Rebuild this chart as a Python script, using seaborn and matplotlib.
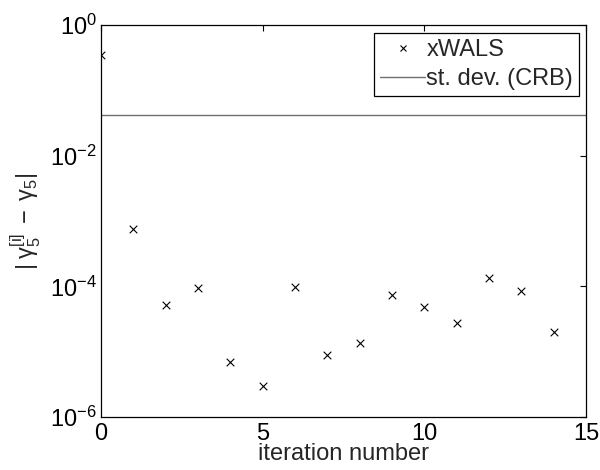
import matplotlib
matplotlib.use("Agg")
import matplotlib.pyplot as plt
import seaborn as sns
import numpy as np
import pandas as pd
from matplotlib.lines import Line2D

iterations = list(range(15))
errors = [0.347, 7.45e-4, 5.2e-5, 9.4e-5, 7.05e-6, 2.95e-6, 9.85e-5, 8.9e-6,
          1.36e-5, 7.25e-5, 4.8e-5, 2.76e-5, 1.32e-4, 8.45e-5, 2.01e-5]
crb_std = 0.0422
x_ticks = [0, 5, 10, 15]
y_ticks = [1e-6, 1e-4, 1e-2, 1e0]
y_tick_labels = [r'$10^{-6}$', r'$10^{-4}$', r'$10^{-2}$', r'$10^{0}$']

sns.set_style("white")
plt.rcParams['font.family'] = ['Liberation Sans', 'DejaVu Sans']
plt.rcParams['mathtext.fontset'] = 'custom'
plt.rcParams['mathtext.rm'] = 'Liberation Sans'
plt.rcParams['mathtext.it'] = 'Liberation Sans:italic'
plt.rcParams['mathtext.default'] = 'regular'

FS = 17

df = pd.DataFrame({"iteration": iterations, "error": errors})

fig = plt.figure(figsize=(6, 4.7), dpi=100)
ax = fig.add_axes([101/600, 1-417/470, 485/600, 392/470])

sns.scatterplot(data=df, x="iteration", y="error", marker="x", color="black",
                s=30, linewidth=0.8, ax=ax, legend=False)
ax.axhline(crb_std, color="#707070", lw=1.0)

ax.set_yscale("log")
ax.set_xlim(0, 15)
ax.set_ylim(1e-6, 1e0)
ax.set_xticks(x_ticks)
ax.set_xticklabels([str(t) for t in x_ticks])
ax.set_yticks(y_ticks)
ax.set_yticklabels(y_tick_labels)
ax.yaxis.set_minor_locator(matplotlib.ticker.NullLocator())
ax.tick_params(axis='both', which='major', direction='in', length=4, width=0.8,
               top=True, right=True, labelsize=FS, colors='black', pad=3)
ax.tick_params(axis='x', pad=4)
for sp in ax.spines.values():
    sp.set_visible(True)
    sp.set_color('black')
    sp.set_linewidth(0.9)

ax.set_xlabel("iteration number", fontsize=FS, labelpad=-1)
ax.set_ylabel(r'$|\;\mathrm{γ}_5^{[i]}\;-\;\mathrm{γ}_5|$', fontsize=FS, labelpad=5)

handles = [Line2D([], [], marker='x', color='black', linestyle='none', markersize=4, markeredgewidth=0.8),
           Line2D([], [], color='#707070', lw=1.0)]
leg = ax.legend(handles, ["xWALS", "st. dev. (CRB)"], loc="upper right",
                bbox_to_anchor=(478/485, 384/392), fontsize=FS, frameon=True,
                fancybox=False, edgecolor='black', framealpha=1,
                borderpad=0.25, handlelength=1.9, handletextpad=0.05, labelspacing=0.3,
                borderaxespad=0)
leg.get_frame().set_linewidth(0.9)

fig.savefig("out.png", dpi=100)
